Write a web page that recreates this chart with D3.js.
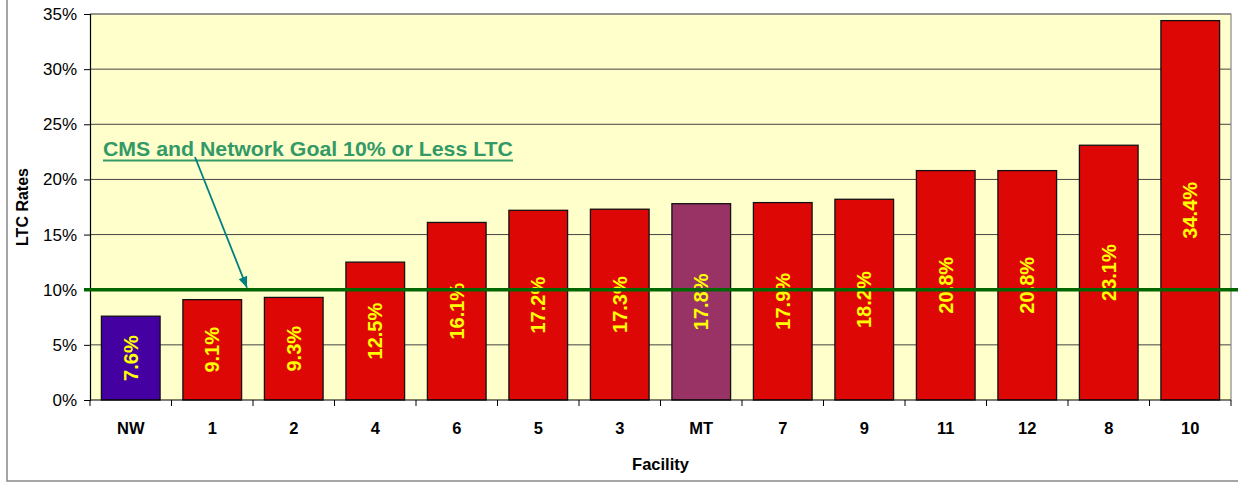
<!DOCTYPE html>
<html><head><meta charset="utf-8">
<script src="https://cdn.jsdelivr.net/npm/d3@7"></script>
<style>body{margin:0;background:#fff;}svg{display:block;font-family:Arial,"Liberation Sans",sans-serif;}</style>
</head><body>
<svg id="c" width="1238" height="482"></svg>
<script>
const categories = ["NW","1","2","4","6","5","3","MT","7","9","11","12","8","10"];
const rates = [7.6,9.1,9.3,12.5,16.1,17.2,17.3,17.8,17.9,18.2,20.8,20.8,23.1,34.4];
const barColors = ["#4400A0","#DD0806","#DD0806","#DD0806","#DD0806","#DD0806","#DD0806","#993366","#DD0806","#DD0806","#DD0806","#DD0806","#DD0806","#DD0806"];
const yTicks = [0,5,10,15,20,25,30,35];
const goal = 10;
const goalLabel = "CMS and Network Goal 10% or Less LTC";

const svg = d3.select("#c");
const L=90, R=1231, T=14, B=400;
const x = d3.scaleBand().domain(categories).range([L,R]).paddingInner(0.28).paddingOuter(0.14);
const y = d3.scaleLinear().domain([0,35]).range([B,T]);

// outer frame
svg.append("rect").attr("x",7).attr("y",-5).attr("width",1240).attr("height",486)
  .attr("fill","none").attr("stroke","#888").attr("stroke-width",1.5);

// plot bg
svg.append("rect").attr("x",L).attr("y",T).attr("width",R-L).attr("height",B-T).attr("fill","#FFFFCC");

// grid
svg.append("g").selectAll("line").data(yTicks.filter(d=>d>0)).join("line")
  .attr("x1",L).attr("x2",R).attr("y1",d=>y(d)).attr("y2",d=>y(d))
  .attr("stroke","#444").attr("stroke-width",1);
// plot border top/right
svg.append("path").attr("d",`M${L},${T}H${R}V${B}`).attr("fill","none").attr("stroke","#888").attr("stroke-width",1.2);

// y axis
const yAxis = d3.axisLeft(y).tickValues(yTicks).tickFormat(d=>d+"%").tickSize(6).tickPadding(7);
const ga = svg.append("g").attr("transform",`translate(${L},0)`).call(yAxis);
ga.select(".domain").attr("stroke","#000").attr("stroke-width",1.2);
ga.selectAll(".tick line").attr("stroke","#000");
ga.selectAll("text").attr("font-size",17).attr("font-family","Arial,'Liberation Sans',sans-serif").attr("fill","#000");

// bars
svg.append("g").selectAll("rect").data(rates).join("rect")
  .attr("x",(d,i)=>x(categories[i])).attr("width",x.bandwidth())
  .attr("y",d=>y(d)).attr("height",d=>B-y(d))
  .attr("fill",(d,i)=>barColors[i]).attr("stroke","#111").attr("stroke-width",1.3);

// x axis
const step = x.step();
const xAxisG = svg.append("g");
xAxisG.append("line").attr("x1",L).attr("x2",R).attr("y1",B).attr("y2",B).attr("stroke","#000").attr("stroke-width",1.2);
const bounds = d3.range(categories.length+1).map(i=>L + i*step);
xAxisG.selectAll(".xt").data(bounds).join("line").attr("class","xt")
  .attr("x1",d=>d).attr("x2",d=>d).attr("y1",B).attr("y2",B+6).attr("stroke","#000");
xAxisG.selectAll("text").data(categories).join("text")
  .attr("x",d=>x(d)+x.bandwidth()/2).attr("y",434).attr("text-anchor","middle")
  .attr("font-size",16.5).attr("font-weight","bold").text(d=>d);

// bar labels
svg.append("g").selectAll("text").data(rates).join("text")
  .attr("transform",(d,i)=>`translate(${x(categories[i])+x.bandwidth()/2},${(y(d)+B)/2}) rotate(-90)`)
  .attr("text-anchor","middle").attr("dy","0.35em")
  .attr("font-size",20).attr("font-weight","bold").attr("fill","#FFFF00")
  .text(d=>d.toFixed(1)+"%");

// goal line
svg.append("line").attr("x1",84).attr("x2",1238).attr("y1",y(goal)).attr("y2",y(goal))
  .attr("stroke","#006600").attr("stroke-width",3.5);

// annotation
svg.append("text").attr("x",103).attr("y",156).attr("font-size",21).attr("font-weight","bold")
  .attr("fill","#339966").attr("textLength",410).attr("lengthAdjust","spacingAndGlyphs").text(goalLabel);
svg.append("line").attr("x1",103).attr("x2",513).attr("y1",160.5).attr("y2",160.5).attr("stroke","#339966").attr("stroke-width",2);
const ax1=195, ay1=157, ax2=247, ay2=y(goal)-2;
svg.append("line").attr("x1",ax1).attr("y1",ay1).attr("x2",ax2).attr("y2",ay2).attr("stroke","#008080").attr("stroke-width",1.8);
const ang=Math.atan2(ay2-ay1,ax2-ax1);
const hl=11, hw=4.5;
const bx=ax2-hl*Math.cos(ang), by=ay2-hl*Math.sin(ang);
svg.append("path").attr("d",`M${ax2},${ay2}L${bx+hw*Math.sin(ang)},${by-hw*Math.cos(ang)}L${bx-hw*Math.sin(ang)},${by+hw*Math.cos(ang)}Z`).attr("fill","#008080");

// axis titles
svg.append("text").attr("transform","translate(28,207) rotate(-90)").attr("text-anchor","middle")
  .attr("font-size",16).attr("font-weight","bold").text("LTC Rates");
svg.append("text").attr("x",(L+R)/2).attr("y",470).attr("text-anchor","middle")
  .attr("font-size",16.5).attr("font-weight","bold").text("Facility");
</script>
</body></html>
